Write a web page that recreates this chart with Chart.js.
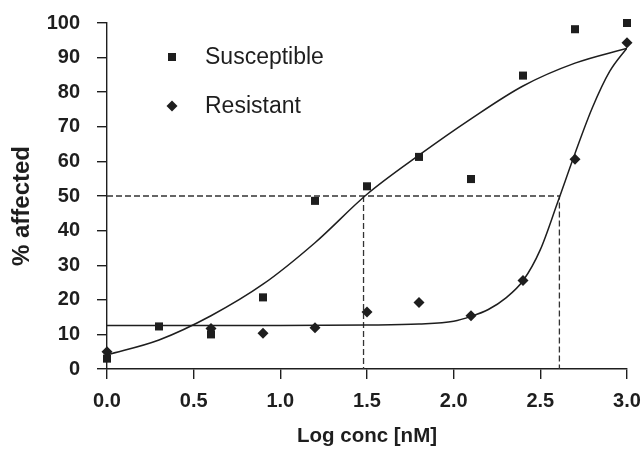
<!DOCTYPE html>
<html>
<head>
<meta charset="utf-8">
<script src="https://cdn.jsdelivr.net/npm/chart.js@4.4.0/dist/chart.umd.min.js"></script>
<style>
  html, body { margin: 0; padding: 0; background: #fff; }
  #wrap { width: 643px; height: 450px; }
</style>
</head>
<body>
<div id="wrap"><canvas id="doseChart" width="643" height="450"></canvas></div>
<script>
// measured points
const logConc = [0, 0.3, 0.6, 0.9, 1.2, 1.5, 1.8, 2.1, 2.4, 2.7, 3.0];
const susceptible = [3, 12.3, 10, 20.7, 48.6, 52.8, 61.3, 54.9, 84.8, 98.2, 100];
const resistant = [5, null, 11.7, 10.3, 11.9, 16.5, 19.2, 15.4, 25.6, 60.6, 94.3];

// fitted curves
const fitSuscX = [0, 0.3, 0.6, 0.9, 1.2, 1.5, 1.8, 2.1, 2.4, 2.7, 3.0];
const fitSuscY = [4.1, 8.4, 15.4, 24.5, 36.5, 50.5, 61.8, 72.3, 81.8, 88.4, 92.7];
const fitResX = [0, 0.5, 1.0, 1.5, 1.8, 2.0, 2.1, 2.2, 2.3, 2.4, 2.5, 2.6, 2.7, 2.8, 2.9, 3.0];
const fitResY = [12.6, 12.6, 12.6, 12.7, 13.0, 13.8, 15.2, 17.2, 20.5, 25.5, 34.5, 48.2, 62.3, 75.5, 86.0, 92.8];

// 50% guide lines
const ec50Susc = 1.48;
const ec50Res = 2.61;
const halfLevel = 50;

const xTicks = [0, 0.5, 1.0, 1.5, 2.0, 2.5, 3.0];
const yTicks = [0, 10, 20, 30, 40, 50, 60, 70, 80, 90, 100];

const ink = "#1e1e1e";
const fontFamily = "'Liberation Sans', Arial, sans-serif";

function pairs(xs, ys) {
  return xs.map((x, i) => ({ x: x, y: ys[i] })).filter((p) => p.y !== null);
}

// legend drawn inside the plot, like the original
const insideLegend = {
  id: "insideLegend",
  afterDraw(chart) {
    const ctx = chart.ctx;
    const items = [
      { label: "Susceptible", style: "rect", x: 172, y: 57 },
      { label: "Resistant", style: "diamond", x: 172, y: 106 },
    ];
    ctx.save();
    ctx.fillStyle = ink;
    items.forEach((it) => {
      if (it.style === "rect") {
        ctx.fillRect(it.x - 4, it.y - 4, 8, 8);
      } else {
        ctx.beginPath();
        ctx.moveTo(it.x, it.y - 5.5);
        ctx.lineTo(it.x + 5.5, it.y);
        ctx.lineTo(it.x, it.y + 5.5);
        ctx.lineTo(it.x - 5.5, it.y);
        ctx.closePath();
        ctx.fill();
      }
      ctx.font = "23px " + fontFamily;
      ctx.textBaseline = "middle";
      ctx.textAlign = "left";
      ctx.fillText(it.label, 205, it.y + 1);
    });
    ctx.restore();
  },
};

const ctx = document.getElementById("doseChart").getContext("2d");

const datasets = [
  {
    label: "Susceptible",
    data: pairs(logConc, susceptible),
    pointStyle: "rect",
    pointRadius: 5.7,
    backgroundColor: ink,
    borderColor: ink,
    borderWidth: 0,
    showLine: false,
    clip: false,
    order: 1,
  },
  {
    label: "Resistant",
    data: pairs(logConc, resistant),
    pointStyle: "rectRot",
    pointRadius: 5.5,
    backgroundColor: ink,
    borderColor: ink,
    borderWidth: 0,
    showLine: false,
    clip: false,
    order: 1,
  },
  {
    label: "fit S",
    data: pairs(fitSuscX, fitSuscY),
    showLine: true,
    pointRadius: 0,
    borderColor: ink,
    borderWidth: 1.5,
    cubicInterpolationMode: "monotone",
    order: 2,
  },
  {
    label: "fit R",
    data: pairs(fitResX, fitResY),
    showLine: true,
    pointRadius: 0,
    borderColor: ink,
    borderWidth: 1.5,
    cubicInterpolationMode: "monotone",
    order: 2,
  },
  {
    label: "half R",
    data: [
      { x: 0, y: halfLevel },
      { x: ec50Res, y: halfLevel },
      { x: ec50Res, y: 0 },
    ],
    showLine: true,
    pointRadius: 0,
    borderColor: "#333",
    borderWidth: 1.3,
    borderDash: [6, 3],
    order: 3,
  },
  {
    label: "half S",
    data: [
      { x: ec50Susc, y: halfLevel },
      { x: ec50Susc, y: 0 },
    ],
    showLine: true,
    pointRadius: 0,
    borderColor: "#333",
    borderWidth: 1.3,
    borderDash: [6, 3],
    order: 3,
  },
];

const options = {
  responsive: false,
  animation: false,
  layout: {
    padding: { top: 23, right: 16, left: 0, bottom: 0 },
  },
  plugins: {
    legend: { display: false },
    tooltip: { enabled: false },
  },
  scales: {
    x: {
      type: "linear",
      min: 0,
      max: 3,
      afterFit: function (scale) {
        scale.height = 81;
        scale.paddingLeft = 0;
        scale.paddingRight = 0;
      },
      afterBuildTicks: function (scale) {
        scale.ticks = xTicks.map((v) => ({ value: v }));
      },
      grid: {
        drawOnChartArea: false,
        drawTicks: true,
        tickLength: 10,
        color: ink,
        lineWidth: 1.4,
      },
      border: { display: true, color: ink, width: 1.4 },
      ticks: {
        color: ink,
        padding: 10,
        font: { family: fontFamily, size: 20, weight: "bold" },
        callback: function (value) {
          return Number(value).toFixed(1);
        },
      },
      title: {
        display: true,
        text: "Log conc [nM]",
        color: ink,
        font: { family: fontFamily, size: 20.5, weight: "bold" },
        padding: { top: 0, bottom: 1 },
      },
    },
    y: {
      type: "linear",
      min: 0,
      max: 100,
      afterFit: function (scale) {
        scale.width = 107;
        scale.paddingTop = 0;
        scale.paddingBottom = 0;
      },
      afterBuildTicks: function (scale) {
        scale.ticks = yTicks.map((v) => ({ value: v }));
      },
      grid: {
        drawOnChartArea: false,
        drawTicks: true,
        tickLength: 10,
        color: ink,
        lineWidth: 1.4,
      },
      border: { display: true, color: ink, width: 1.4 },
      ticks: {
        color: ink,
        padding: 17,
        font: { family: fontFamily, size: 20, weight: "bold" },
      },
      title: {
        display: true,
        text: "% affected   ",
        color: ink,
        font: { family: fontFamily, size: 24, weight: "bold" },
        padding: { top: 8, bottom: 0 },
      },
    },
  },
};

new Chart(ctx, {
  type: "scatter",
  data: { datasets: datasets },
  options: options,
  plugins: [insideLegend],
});
</script>
</body>
</html>
